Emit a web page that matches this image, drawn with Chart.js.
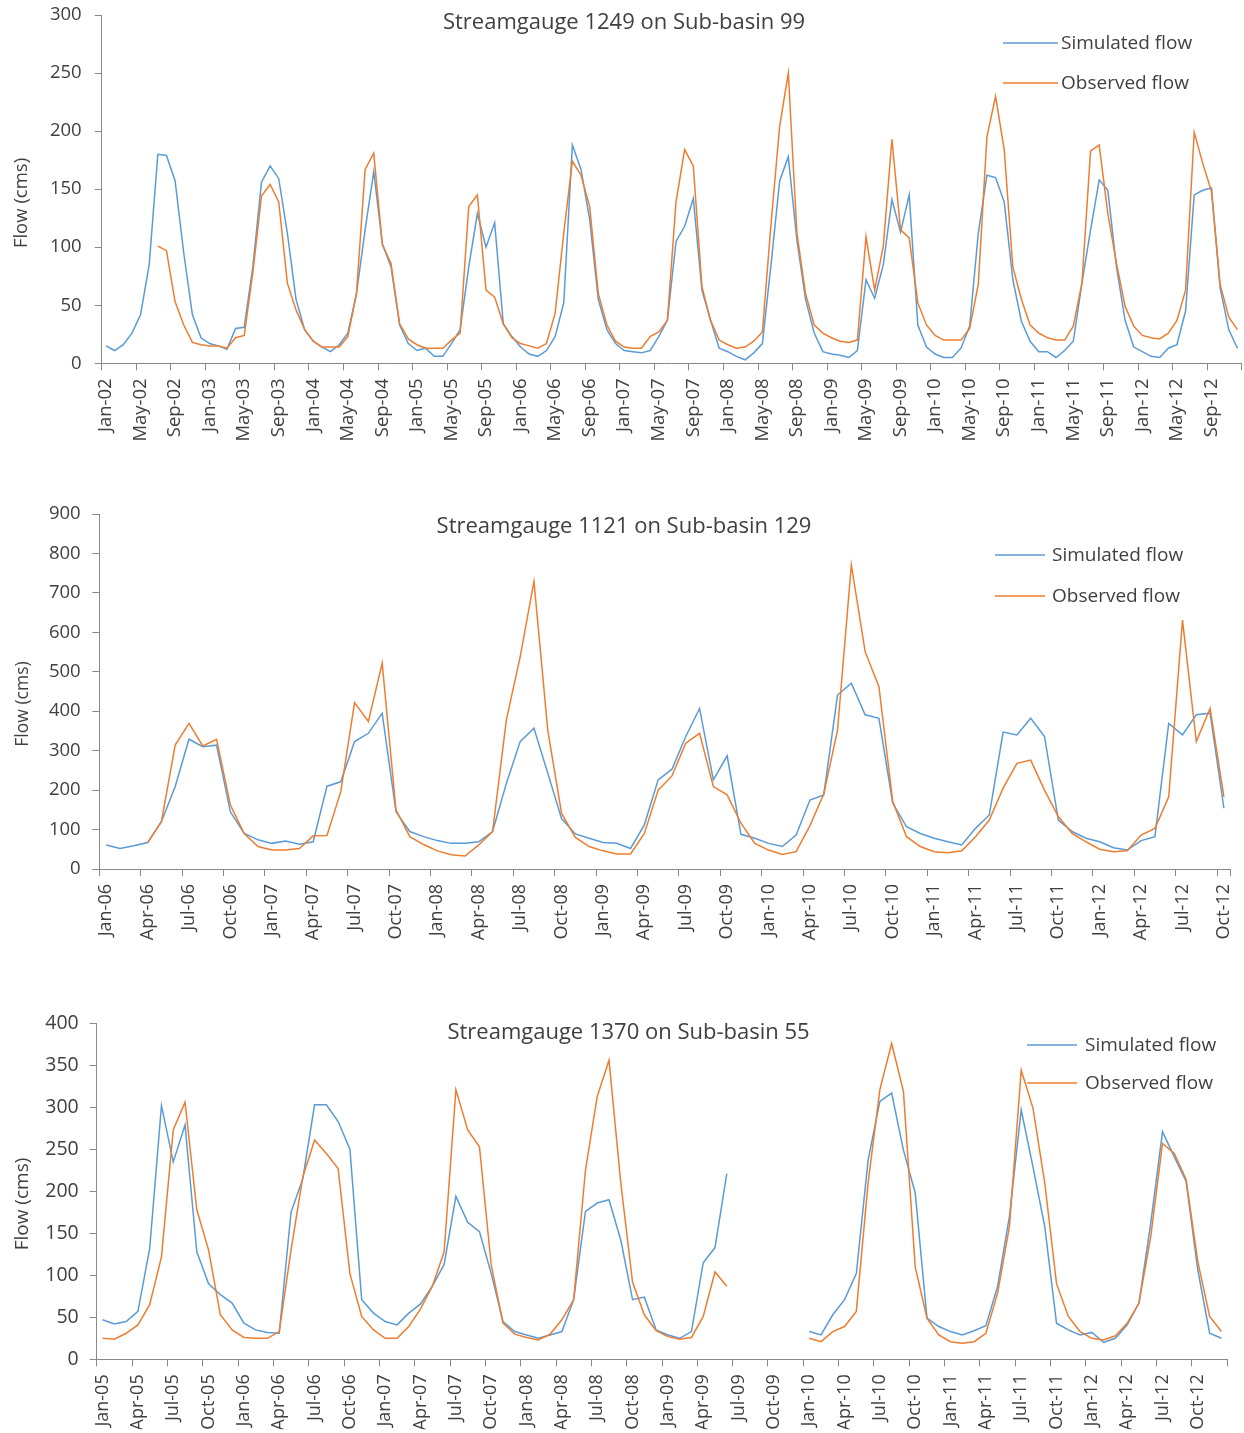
<!DOCTYPE html>
<html>
<head>
<meta charset="utf-8">
<script src="https://cdn.jsdelivr.net/npm/chart.js@4.4.1/dist/chart.umd.min.js"></script>
<style>
  body { margin: 0; background: #fff; }
  .wrap { position: absolute; left: 0; width: 1244px; }
</style>
</head>
<body>
<div class="wrap" style="top:0px"><canvas id="c1" width="1244" height="470"></canvas></div>
<div class="wrap" style="top:480px"><canvas id="c2" width="1244" height="500"></canvas></div>
<div class="wrap" style="top:990px"><canvas id="c3" width="1244" height="443"></canvas></div>
<script>
// ---- data ----
const monthNames = ["Jan", "Feb", "Mar", "Apr", "May", "Jun", "Jul", "Aug", "Sep", "Oct", "Nov", "Dec"];

// Streamgauge 1249 (Jan-02 .. Dec-12)
const sim1249 = [
  15, 11, 16, 26, 42, 85, 180, 179, 157, 95, 42, 22,
  17, 15, 12, 30, 31, 83, 156, 170, 159, 112, 55, 29,
  19, 14, 10, 16, 26, 60, 115, 165, 103, 83, 33, 17,
  11, 13, 6, 6, 17, 29, 83, 129, 100, 121, 34, 23,
  14, 8, 6, 11, 23, 52, 188, 167, 124, 55, 29, 17,
  11, 10, 9, 11, 23, 37, 105, 118, 142, 63, 37, 13,
  10, 6, 3, 9, 17, 85, 157, 178, 106, 55, 26, 10,
  8, 7, 5, 11, 72, 56, 85, 141, 113, 145, 33, 14,
  8, 5, 5, 13, 32, 112, 162, 160, 139, 72, 36, 19,
  10, 10, 5, 11, 19, 69, 115, 158, 149, 83, 37, 14,
  10, 6, 5, 13, 16, 45, 145, 149, 151, 65, 29, 13
];
const obs1249 = [
  null, null, null, null, null, null, 101, 97, 53, 33, 18, 16,
  15, 15, 13, 22, 24, 78, 144, 154, 139, 69, 46, 29,
  19, 14, 14, 14, 23, 60, 167, 181, 102, 86, 34, 21,
  16, 13, 13, 13, 20, 26, 135, 145, 63, 57, 34, 22,
  17, 15, 13, 17, 43, 112, 174, 162, 135, 60, 33, 19,
  14, 13, 13, 23, 27, 37, 139, 184, 170, 66, 37, 20,
  16, 13, 14, 19, 27, 120, 204, 250, 112, 60, 33, 26,
  22, 19, 18, 20, 109, 63, 101, 193, 115, 108, 52, 33,
  24, 20, 20, 20, 30, 68, 195, 230, 184, 83, 55, 33,
  26, 22, 20, 20, 32, 69, 183, 188, 129, 86, 49, 32,
  24, 22, 21, 26, 37, 63, 199, 172, 148, 68, 40, 29
];

// Streamgauge 1121 (Jan-06 .. Oct-12)
const sim1121 = [
  61, 52, 59, 67, 120, 209, 329, 310, 314, 145, 90, 74,
  65, 71, 63, 69, 210, 221, 323, 344, 395, 145, 95, 82,
  72, 65, 65, 69, 95, 217, 323, 357, 243, 128, 89, 78,
  67, 65, 52, 112, 226, 253, 336, 407, 226, 287, 88, 78,
  65, 57, 86, 175, 188, 441, 471, 391, 382, 167, 107, 90,
  78, 69, 61, 103, 137, 347, 340, 382, 336, 124, 95, 78,
  69, 54, 48, 72, 82, 369, 340, 391, 395, 154
];
const obs1121 = [
  null, null, null, 66, 120, 314, 369, 312, 329, 162, 90, 57,
  48, 48, 52, 84, 85, 196, 422, 374, 522, 150, 82, 62,
  46, 36, 33, 61, 95, 378, 538, 729, 352, 141, 80, 57,
  46, 38, 38, 90, 200, 236, 319, 344, 209, 188, 116, 65,
  48, 37, 44, 110, 190, 352, 771, 551, 462, 171, 82, 57,
  44, 41, 46, 82, 124, 205, 268, 276, 200, 133, 90, 69,
  50, 44, 46, 86, 103, 183, 631, 323, 407, 183
];

// Streamgauge 1370 (Jan-05 .. Dec-12), no data Jul-09 .. Dec-09
const sim1370 = [
  47, 42, 45, 57, 132, 302, 235, 279, 128, 90, 77, 67,
  43, 35, 32, 31, 175, 215, 303, 303, 283, 250, 71, 55,
  45, 41, 55, 66, 87, 113, 194, 163, 152, 102, 45, 33,
  29, 25, 29, 33, 71, 176, 186, 190, 142, 71, 74, 35,
  29, 25, 33, 115, 133, 221, null, null, null, null, null, null,
  33, 29, 53, 71, 102, 237, 307, 317, 249, 198, 49, 39,
  33, 29, 34, 40, 87, 170, 297, 229, 158, 43, 35, 29,
  32, 20, 25, 41, 67, 162, 271, 241, 212, 106, 31, 25
];
const obs1370 = [
  25, 24, 31, 41, 65, 122, 273, 306, 178, 130, 53, 35,
  26, 25, 25, 33, 130, 217, 261, 245, 227, 102, 51, 35,
  25, 25, 39, 60, 87, 128, 321, 273, 253, 112, 43, 30,
  26, 23, 30, 47, 71, 225, 313, 356, 210, 92, 53, 34,
  27, 24, 26, 51, 104, 87, null, null, null, null, null, null,
  25, 21, 33, 39, 57, 210, 321, 376, 319, 110, 49, 29,
  21, 19, 21, 31, 79, 158, 344, 299, 210, 90, 51, 33,
  25, 23, 28, 43, 67, 146, 257, 245, 214, 116, 51, 33
];

const seriesNames = ["Simulated flow", "Observed flow"];
const axisTitle = "Flow (cms)";

// ---- helpers ----
function monthLabels(startYear, count) {
  const out = [];
  for (let i = 0; i < count; i++) {
    const y = startYear + Math.floor(i / 12);
    out.push(monthNames[i % 12] + "-" + String(y % 100).padStart(2, "0"));
  }
  return out;
}

const FONT = '"Open Sans", "Noto Sans", sans-serif';
const AXIS = "#898989";
const TEXT = "#404040";
const BLUE = "#5B9BD5";
const ORANGE = "#ED7D31";

// title, axis title and legend are drawn on top, inside the plot
const decor = {
  id: "decor",
  afterDraw(chart, args, o) {
    const { ctx } = chart;
    ctx.save();
    ctx.fillStyle = TEXT;
    ctx.textAlign = "center";
    ctx.textBaseline = "alphabetic";
    ctx.font = o.titleSize + "px " + FONT;
    ctx.fillText(o.title, o.titleX, o.titleY);

    ctx.save();
    ctx.translate(o.axisX, o.axisY);
    ctx.rotate(-Math.PI / 2);
    ctx.textBaseline = "middle";
    ctx.font = o.axisSize + "px " + FONT;
    ctx.fillText(axisTitle, 0, 0);
    ctx.restore();

    ctx.textAlign = "left";
    ctx.textBaseline = "middle";
    ctx.font = o.legendSize + "px " + FONT;
    chart.data.datasets.forEach((ds, i) => {
      const y = o.legendY[i];
      ctx.strokeStyle = ds.borderColor;
      ctx.lineWidth = ds.borderWidth;
      ctx.beginPath();
      ctx.moveTo(o.legendX[0], y);
      ctx.lineTo(o.legendX[1], y);
      ctx.stroke();
      ctx.fillStyle = TEXT;
      ctx.fillText(ds.label, o.legendX[2], y + 1);
    });
    ctx.restore();
  },
};

function makeChart(id, cfg) {
  const canvas = document.getElementById(id);
  const H = canvas.height;
  const step = cfg.step;
  return new Chart(canvas, {
    type: "line",
    data: {
      labels: cfg.labels,
      datasets: [
        { label: seriesNames[0], data: cfg.sim, borderColor: BLUE, borderWidth: 1.5, order: 1 },
        { label: seriesNames[1], data: cfg.obs, borderColor: ORANGE, borderWidth: 1.5, order: 0 },
      ],
    },
    options: {
      responsive: false,
      animation: false,
      events: [],
      spanGaps: false,
      elements: { point: { radius: 0 }, line: { tension: 0 } },
      layout: {
        padding: { left: 0, top: cfg.area.top, right: 1244 - cfg.area.right, bottom: H - cfg.area.bottom - cfg.xH },
      },
      scales: {
        x: {
          type: "category",
          offset: true,
          grid: {
            offset: true,
            drawOnChartArea: false,
            tickLength: 7,
            color: (c) => (c.type !== "tick" || c.index % step === 0 ? AXIS : "rgba(0,0,0,0)"),
          },
          border: { color: AXIS, width: 1 },
          ticks: {
            autoSkip: false,
            minRotation: 90,
            maxRotation: 90,
            padding: 8,
            color: TEXT,
            font: { family: FONT, size: cfg.xSize },
            callback: function (v, i) { return i % step === 0 ? this.getLabelForValue(v) : ""; },
          },
          afterFit: (s) => { s.height = cfg.xH; s.paddingLeft = 0; s.paddingRight = 0; },
        },
        y: {
          min: 0,
          max: cfg.yMax,
          grid: { drawOnChartArea: false, tickLength: 7, color: AXIS },
          border: { color: AXIS, width: 1 },
          ticks: {
            stepSize: cfg.yStep,
            padding: cfg.yPad,
            color: TEXT,
            font: { family: FONT, size: cfg.ySize },
          },
          afterFit: (s) => { s.width = cfg.area.left; s.paddingTop = 0; s.paddingBottom = 0; },
        },
      },
      plugins: {
        legend: { display: false },
        tooltip: { enabled: false },
        decor: cfg.decor,
      },
    },
    plugins: [decor],
  });
}

makeChart("c1", {
  labels: monthLabels(2002, sim1249.length),
  sim: sim1249,
  obs: obs1249,
  step: 4,
  yMax: 300,
  yStep: 50,
  yPad: 13,
  ySize: 18.5,
  xSize: 18.5,
  xH: 100,
  area: { left: 101.7, right: 1241.7, top: 15, bottom: 363.3 },
  decor: {
    title: "Streamgauge 1249 on Sub-basin 99",
    titleX: 624, titleY: 28.5, titleSize: 22,
    axisX: 22, axisY: 203, axisSize: 18.5,
    legendX: [1003, 1058, 1061], legendY: [43, 83], legendSize: 19,
  },
});

makeChart("c2", {
  labels: monthLabels(2006, sim1121.length),
  sim: sim1121,
  obs: obs1121,
  step: 3,
  yMax: 900,
  yStep: 100,
  yPad: 11.6,
  ySize: 18.5,
  xSize: 18,
  xH: 100,
  area: { left: 99.3, right: 1230.8, top: 34, bottom: 389 },
  decor: {
    title: "Streamgauge 1121 on Sub-basin 129",
    titleX: 624, titleY: 53.3, titleSize: 22,
    axisX: 23, axisY: 224, axisSize: 17.5,
    legendX: [995, 1045, 1052], legendY: [75, 116], legendSize: 19,
  },
});

makeChart("c3", {
  labels: monthLabels(2005, sim1370.length),
  sim: sim1370,
  obs: obs1370,
  step: 3,
  yMax: 400,
  yStep: 50,
  yPad: 11,
  ySize: 19.5,
  xSize: 18,
  xH: 70,
  area: { left: 96.7, right: 1227.3, top: 33.3, bottom: 369.3 },
  decor: {
    title: "Streamgauge 1370 on Sub-basin 55",
    titleX: 628.5, titleY: 49.3, titleSize: 22,
    axisX: 23, axisY: 214, axisSize: 19,
    legendX: [1027, 1077, 1085], legendY: [55, 93], legendSize: 19,
  },
});
</script>
</body>
</html>
